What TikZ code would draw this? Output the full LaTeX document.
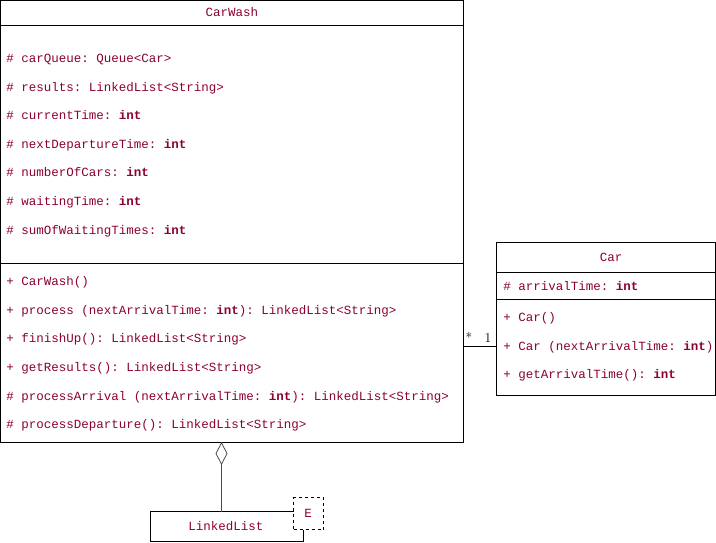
\documentclass[tikz,border=0pt]{standalone}
\usepackage{fontspec}
\setmonofont{Liberation Mono}
\usetikzlibrary{arrows.meta}
\definecolor{umlred}{RGB}{139,0,51}
\begin{document}
\begin{tikzpicture}[x=1pt,y=-1pt,line width=0.8pt,
  box/.style={draw,anchor=north west,inner sep=0,outer sep=0},
  mem/.style={anchor=base west,inner sep=0,text=umlred,font=\ttfamily\fontsize{12.5}{14}\selectfont},
  ttl/.style={anchor=base,inner sep=0,text=umlred,font=\ttfamily\fontsize{12.5}{14}\selectfont},
  mult/.style={anchor=base,inner sep=0,font=\fontsize{13.5}{15}\selectfont}]
\useasboundingbox (0,0) rectangle (716,542);
% CarWash
\node[box,minimum width=462.5pt,minimum height=441.5pt] (cw) at (0.5,0.5) {};
\draw (0.5,25.5) -- (463,25.5);
\draw (0.5,263.5) -- (463,263.5);
\node[ttl] (cwt) at (232,16) {CarWash};
\node[mem] (a1) at (6,62) {\# carQueue: Queue<Car>};
\node[mem] (a2) at (6,91) {\# results: LinkedList<String>};
\node[mem] (a3) at (6,119) {\# currentTime: \textbf{int}};
\node[mem] (a4) at (6,148) {\# nextDepartureTime: \textbf{int}};
\node[mem] (a5) at (6,176) {\# numberOfCars: \textbf{int}};
\node[mem] (a6) at (6,205) {\# waitingTime: \textbf{int}};
\node[mem] (a7) at (6,234) {\# sumOfWaitingTimes: \textbf{int}};
\node[mem] (m1) at (6,285) {+ CarWash()};
\node[mem] (m2) at (6,314) {+ process (nextArrivalTime: \textbf{int}): LinkedList<String>};
\node[mem] (m3) at (6,342) {+ finishUp(): LinkedList<String>};
\node[mem] (m4) at (6,371) {+ getResults(): LinkedList<String>};
\node[mem] (m5) at (6,400) {\# processArrival (nextArrivalTime: \textbf{int}): LinkedList<String>};
\node[mem] (m6) at (6,428) {\# processDeparture(): LinkedList<String>};
% Car
\node[box,minimum width=219pt,minimum height=153pt] (car) at (496.5,242.5) {};
\draw (496.5,272.5) -- (715.5,272.5);
\draw (496.5,299.5) -- (715.5,299.5);
\node[ttl] (cart) at (611,261) {Car};
\node[mem] (c1) at (503,290) {\# arrivalTime: \textbf{int}};
\node[mem] (c2) at (503,321) {+ Car()};
\node[mem] (c3) at (503,350) {+ Car (nextArrivalTime: \textbf{int})};
\node[mem] (c4) at (503,378) {+ getArrivalTime(): \textbf{int}};
% association
\coordinate (asy) at (0,346.5);
\draw (cw.east |- asy) -- (car.west |- asy);
\node[mult] (ms) at (469,342) {*};
\node[mult] (m1n) at (488,342) {1};
% LinkedList
\node[box,minimum width=153pt,minimum height=30pt] (ll) at (150.5,511.5) {};
\node[ttl] (llt) at (226,530) {LinkedList};
\node[box,dashed,fill=white,minimum width=30pt,minimum height=32pt] (eb) at (293.5,497.5) {};
\node[ttl] (et) at (308,517) {E};
% aggregation
\coordinate (ag) at (221.5,0);
\draw[draw=black!70,{Diamond[open,length=23pt,width=12pt,line width=0.8pt]}-] (cw.south -| ag) -- (ll.north -| ag);
\end{tikzpicture}
\end{document}
